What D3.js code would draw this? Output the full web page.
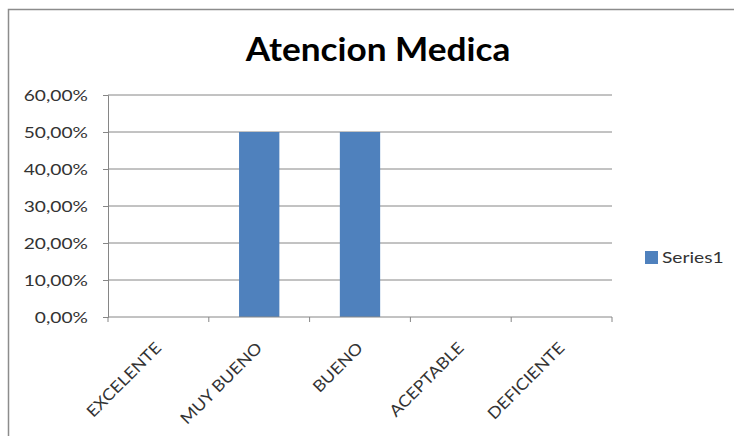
<!DOCTYPE html>
<html>
<head>
<meta charset="utf-8">
<script src="https://cdn.jsdelivr.net/npm/d3@7"></script>
<style>
  body { margin: 0; background: #fff; }
  text { font-family: "Lato", "Open Sans", sans-serif; }
</style>
</head>
<body>
<div id="chart"></div>
<script>
var categories = ["EXCELENTE", "MUY BUENO", "BUENO", "ACEPTABLE", "DEFICIENTE"];
var values = [0, 0.5, 0.5, 0, 0];
var yTicks = [0, 0.1, 0.2, 0.3, 0.4, 0.5, 0.6];
var seriesName = "Series1";
var chartTitle = "Atencion Medica";

var W = 734, H = 436;
var margins = [95, 122, 119, 108]; // top, right, bottom, left
var width = W - margins[1] - margins[3];
var height = H - margins[0] - margins[2];
var barColor = "#4f81bd";
var stretch = 1.28; // reference text is a bit wider than Lato

var svg = d3.select("#chart").append("svg")
    .attr("width", W).attr("height", H);

// outer frame
svg.append("rect").attr("x", 8.5).attr("y", 9.5)
    .attr("width", W).attr("height", H)
    .attr("fill", "none").attr("stroke", "#8c8c8c").attr("stroke-width", 1.5);

svg.append("text").attr("transform", "translate(378,61)scale(1.1,1)")
    .attr("text-anchor", "middle").attr("font-size", 32).attr("font-weight", "bold")
    .attr("fill", "#000").text(chartTitle);

var g = svg.append("g").attr("transform", "translate(" + margins[3] + "," + margins[0] + ")");

var x = d3.scaleBand().domain(categories).range([0, width]).paddingInner(0.6).paddingOuter(0.3);
var xOuter = d3.scaleBand().domain(categories).range([0, width]);
var y = d3.scaleLinear().domain([0, 0.6]).range([height, 0]);

var fmt = function(d) { return (d * 100).toFixed(2).replace(".", ",") + "%"; };

// y axis
var yAxis = d3.axisLeft(y).tickValues(yTicks).tickSize(5).tickFormat("");
var ya = g.append("g").call(yAxis);
ya.select(".domain").attr("stroke", "#868686");
ya.selectAll(".tick line").attr("stroke", "#868686");
ya.selectAll(".tick").append("text")
    .attr("transform", "translate(-20,0)scale(" + stretch + ",1)")
    .attr("text-anchor", "end").attr("dy", "0.35em")
    .attr("font-size", 15).attr("fill", "#333")
    .text(function(d) { return fmt(d); });

// gridlines
g.append("g").selectAll("line").data(yTicks.slice(1)).enter().append("line")
    .attr("x1", 0).attr("x2", width)
    .attr("y1", function(d) { return y(d); }).attr("y2", function(d) { return y(d); })
    .attr("stroke", "#868686").attr("stroke-width", 1);

g.append("g").selectAll("rect").data(values).enter().append("rect")
    .attr("x", function(d, i) { return x(categories[i]); })
    .attr("width", x.bandwidth())
    .attr("y", function(d) { return y(d); })
    .attr("height", function(d) { return height - y(d); })
    .attr("fill", barColor);

// x axis with ticks at category boundaries
var xa = g.append("g").attr("transform", "translate(0," + height + ")");
xa.append("line").attr("x1", 0).attr("x2", width).attr("stroke", "#868686");
var bounds = [0].concat(categories.map(function(c) { return xOuter(c) + xOuter.bandwidth(); }));
xa.selectAll(".bt").data(bounds).enter().append("line")
    .attr("x1", function(d) { return d; }).attr("x2", function(d) { return d; })
    .attr("y1", 0).attr("y2", 5).attr("stroke", "#868686");
xa.selectAll(".lbl").data(categories).enter().append("text")
    .attr("transform", function(d) {
        return "translate(" + (xOuter(d) + xOuter.bandwidth() / 2 + 4) + ",32)rotate(-45)scale(1.12,1)";
    })
    .attr("text-anchor", "end").attr("font-size", 16).attr("fill", "#333")
    .text(function(d) { return d; });

// legend
var lg = svg.append("g").attr("transform", "translate(645,251)");
lg.append("rect").attr("width", 13).attr("height", 13).attr("fill", barColor);
lg.append("text").attr("transform", "translate(17,12)scale(" + stretch + ",1)")
    .attr("font-size", 15).attr("fill", "#333").text(seriesName);
</script>
</body>
</html>
